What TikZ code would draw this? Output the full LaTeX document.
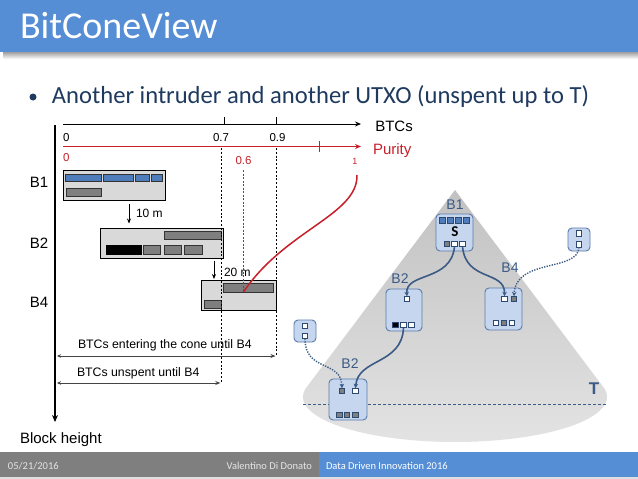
\documentclass[tikz,border=0pt]{standalone}
\usepackage{fontspec}
\setmainfont{Liberation Sans}
\newfontfamily\calfont{Carlito}
\usetikzlibrary{arrows.meta}
\definecolor{titleblue}{HTML}{558ED5}
\definecolor{footgray}{HTML}{7F7F7F}
\definecolor{bulletcol}{HTML}{1F3A5F}
\definecolor{lightgr}{HTML}{D9D9D9}
\definecolor{barblue}{HTML}{4F7CBA}
\definecolor{bargray}{HTML}{7F7F7F}
\definecolor{purred}{HTML}{C8202A}
\definecolor{dimgr}{HTML}{444444}
\definecolor{blkfill}{HTML}{C5D6EE}
\definecolor{blkedge}{HTML}{5A7CAA}
\definecolor{sqedge}{HTML}{2C4A70}
\definecolor{connblue}{HTML}{3B5A85}
\definecolor{lblblue}{HTML}{3A5A85}
\newcommand\fsz[1]{\fontsize{#1}{#1}\selectfont}
\newcommand\rnode[6]{\node[#2,anchor=north west,minimum width=#5pt,minimum height=#6pt] (#1) at (#3,#4) {};}
\tikzset{
  txt/.style={inner sep=0pt, outer sep=0pt},
  lb/.style={draw=black, fill=lightgr, line width=0.7pt, inner sep=0pt, outer sep=0pt},
  barB/.style={draw=black!80, fill=barblue, line width=0.5pt, inner sep=0pt, outer sep=0pt},
  barG/.style={draw=black!80, fill=bargray, line width=0.5pt, inner sep=0pt, outer sep=0pt},
  barK/.style={draw=black, fill=black, line width=0.5pt, inner sep=0pt, outer sep=0pt},
  cblk/.style={draw=blkedge, fill=blkfill, rounded corners=4pt, line width=0.9pt, inner sep=0pt, outer sep=0pt},
  sqW/.style={draw=sqedge, fill=white, minimum size=5.5pt, inner sep=0pt, outer sep=0pt, line width=0.6pt},
  sqG/.style={sqW, fill=bargray},
  sqK/.style={sqW, fill=black},
  sqB/.style={sqW, fill=barblue, minimum width=6.5pt, minimum height=6pt},
  conn/.style={draw=connblue, line width=1.6pt, -{Stealth[length=4.5pt,width=4.5pt]}},
  dconn/.style={draw=connblue, line width=1.4pt, dash pattern=on 1.3pt off 1.3pt, -{Stealth[length=4.5pt,width=4.5pt]}},
  blbl/.style={txt, text=lblblue, font=\fsz{14}},
}
\begin{document}
\begin{tikzpicture}[x=1pt,y=-1pt]
\useasboundingbox (0,0) rectangle (638,479);
\fill[white] (0,0) rectangle (638,479);
% title bar
\shade[top color=gray!75, bottom color=white] (3,52) rectangle (638,59);
\fill[titleblue] (0,0) rectangle (638,52);
\node[txt, anchor=base west, text=white, font=\calfont\fsz{38}] (title) at (20,38.5) {BitConeView};
% bullet
\node[circle, fill=bulletcol, minimum size=7pt, inner sep=0pt] (dot) at (33,97) {};
\node[txt, anchor=base west, text=bulletcol, font=\calfont\fsz{24.6}] (bullet) at (52,103) {Another intruder and another UTXO (unspent up to T)};
% footer
\fill[footgray] (0,452) rectangle (319,477);
\fill[titleblue] (319,452) rectangle (638,477);
\fill[gray!25] (0,477) rectangle (638,479);
\node[txt, anchor=base west, text=gray!20, font=\calfont\fsz{10.5}] (fdate) at (8,469) {05/21/2016};
\node[txt, anchor=base east, text=gray!20, font=\calfont\fsz{10.5}] (fauth) at (312,469) {Valentino Di Donato};
\node[txt, anchor=base west, text=white, font=\calfont\fsz{10.5}] (fconf) at (326,469) {Data Driven Innovation 2016};

% ---------------- left chart ----------------
\coordinate (ytop) at (55,125);
\coordinate (ybot) at (55,422);
\draw[line width=2.2pt, -{Stealth[length=7pt,width=6pt]}] (ytop) -- (ybot);
\node[txt, anchor=base west, font=\fsz{15}] (bh) at (20,443) {Block height};

\coordinate (bx0) at (63,124);
\coordinate (bx1) at (361,124);
\draw[line width=0.9pt, -{Stealth[length=6pt,width=5pt]}] (bx0) -- (bx1);
\coordinate (t7a) at (224,117); \coordinate (t7b) at (224,124);
\coordinate (t9a) at (276,117); \coordinate (t9b) at (276,124);
\draw[line width=0.7pt] (t7a) -- (t7b) (t9a) -- (t9b);
\node[txt, anchor=base, font=\fsz{15}] (btcs) at (394,131) {BTCs};
\node[txt, anchor=base west, font=\fsz{11.5}] (l0) at (63,141.5) {0};
\node[txt, anchor=base, font=\fsz{11.5}] (l07) at (221,141.5) {0.7};
\node[txt, anchor=base, font=\fsz{11.5}] (l09) at (277.5,141.5) {0.9};

\coordinate (px0) at (63,146.5);
\coordinate (px1) at (361,146.5);
\draw[purred, line width=1.3pt, -{Stealth[length=6pt,width=5pt]}] (px0) -- (px1);
\coordinate (tpa) at (319.5,141); \coordinate (tpb) at (319.5,152);
\draw[purred, line width=0.7pt] (tpa) -- (tpb);
\node[txt, anchor=base west, text=purred, font=\fsz{15}] (purity) at (373,154) {Purity};
\node[txt, anchor=base west, text=purred, font=\fsz{11.5}] (r0) at (63,161.5) {0};
\node[txt, anchor=base, text=purred, font=\fsz{11.5}] (r06) at (243.5,164) {0.6};
\node[txt, anchor=base, text=purred, font=\fsz{9}] (r1) at (355,164.5) {1};

\node[txt, anchor=center, font=\fsz{15}] (lb1) at (39,182.5) {B1};
\node[txt, anchor=center, font=\fsz{15}] (lb2) at (39,243) {B2};
\node[txt, anchor=center, font=\fsz{15}] (lb4) at (39,302) {B4};

% B1 box
\rnode{b1}{lb}{63}{170}{102}{30}
\rnode{b1a}{barB}{65.5}{174}{36}{7}
\rnode{b1b}{barB}{103.3}{174}{30}{7}
\rnode{b1c}{barB}{135}{174}{14.7}{7}
\rnode{b1d}{barB}{151.3}{174}{11.4}{7}
\rnode{b1e}{barG}{66.3}{188.7}{35}{7.6}
% arrow 10 m
\coordinate (a1s) at (129,204);
\coordinate (a1e) at (129,223.5);
\draw[line width=0.8pt, -{Stealth[length=5pt,width=4pt]}] (a1s) -- (a1e);
\node[txt, anchor=base west, font=\fsz{12}] (m10) at (136,217) {10 m};
% B2 box
\rnode{b2}{lb}{100.3}{228}{123}{30}
\rnode{b2a}{barG}{164.3}{231.7}{57}{7.6}
\rnode{b2b}{barK}{106}{245.3}{35.3}{9}
\rnode{b2c}{barG}{143.3}{245.3}{17}{9}
\rnode{b2d}{barG}{164.3}{245.3}{17.4}{9}
\rnode{b2e}{barG}{184.3}{245.3}{18}{9}
% arrow 20 m
\coordinate (a2s) at (214,261);
\coordinate (a2e) at (214,279);
\draw[line width=0.8pt, -{Stealth[length=5pt,width=4pt]}] (a2s) -- (a2e);
\node[txt, anchor=base west, font=\fsz{12}] (m20) at (224,276) {20 m};
% B4 box
\rnode{b4}{lb}{201.3}{280.3}{75}{30.4}
\rnode{b4a}{barG}{223}{283.7}{50.7}{8.6}
\rnode{b4b}{barG}{204.3}{300.5}{17}{7.3}

% dashed guide lines
\coordinate (d7a) at (220.8,148); \coordinate (d7b) at (220.8,383);
\coordinate (d9a) at (276,148); \coordinate (d9b) at (276,356);
\draw[line width=0.6pt, dash pattern=on 2pt off 1.8pt] (d7a) -- (d7b);
\draw[line width=0.6pt, dash pattern=on 2pt off 1.8pt] (d9a) -- (d9b);
\coordinate (d6a) at (243.5,170); \coordinate (d6b) at (243.5,292);
\draw[purred, line width=0.6pt, dash pattern=on 2pt off 1.5pt] (d6a) -- (d6b);
% red purity curve
\coordinate (cend) at (357,175);
\draw[purred, line width=1.5pt] (d6b) .. controls (285,230) and (358,215) .. (cend);

% dimension arrows
\coordinate (e1a) at (57,356); \coordinate (e1b) at (275.5,356);
\coordinate (e2a) at (57,383); \coordinate (e2b) at (220.3,383);
\draw[dimgr, line width=0.9pt, {Stealth[length=4pt,width=3.5pt]}-{Stealth[length=5pt,width=4pt]}] (e1a) -- (e1b);
\draw[dimgr, line width=0.9pt, {Stealth[length=4pt,width=3.5pt]}-{Stealth[length=5pt,width=4pt]}] (e2a) -- (e2b);
\node[txt, anchor=base west, font=\fsz{12.3}] (ent) at (78,348) {BTCs entering the cone until B4};
\node[txt, anchor=base west, font=\fsz{12.3}] (uns) at (77,376) {BTCs unspent until B4};

% ---------------- cone ----------------
\shade[top color=gray!48, bottom color=gray!22] (455,190) -- plot[domain=-12.5:192.5, samples=90] ({455+152*cos(\x)},{397+45*sin(\x)}) -- cycle;
\coordinate (ta) at (303,404); \coordinate (tb) at (607,404);
\draw[connblue, line width=0.6pt, dash pattern=on 3pt off 2pt] (ta) -- (tb);
\node[txt, text=connblue, font=\bfseries\fsz{17}] (tlab) at (594,389) {T};

% block B1 (S)
\rnode{cb1}{cblk}{436}{214}{37}{37}
\node[sqB] (cb1q1) at (442.5,220) {};
\node[sqB] (cb1q2) at (450.5,220) {};
\node[sqB] (cb1q3) at (458.5,220) {};
\node[sqB] (cb1q4) at (466.5,220) {};
\node[txt, font=\calfont\bfseries\fsz{15}] (slab) at (455,232) {S};
\node[sqG] (cb1g) at (447,244) {};
\node[sqW] (cb1w1) at (454.5,244) {};
\node[sqW] (cb1w2) at (462.5,244) {};
\node[blbl] (cb1l) at (455,205) {B1};

% block B2 middle
\rnode{cb2}{cblk}{386}{289}{36}{42}
\node[sqW] (cb2t) at (407,299) {};
\node[sqK] (cb2k) at (395.5,325) {};
\node[sqW] (cb2w1) at (403.5,325) {};
\node[sqW] (cb2w2) at (411.5,325) {};
\node[blbl] (cb2l) at (400,279) {B2};

% block B4
\rnode{cb4}{cblk}{485}{288}{37}{42}
\node[sqW] (cb4t) at (504.5,299) {};
\node[sqG] (cb4g) at (514,299) {};
\node[sqW] (cb4b1) at (496,323) {};
\node[sqG] (cb4b2) at (504,323) {};
\node[sqW] (cb4b3) at (512,323) {};
\node[blbl] (cb4l) at (510,268) {B4};

% block B2 bottom
\rnode{cb3}{cblk}{329}{379}{38}{41}
\node[sqG] (cb3g) at (342,391) {};
\node[sqW] (cb3w) at (355.5,391) {};
\node[sqG] (cb3b1) at (339.5,415) {};
\node[sqG] (cb3b2) at (347,415) {};
\node[sqG] (cb3b3) at (355.5,415) {};
\node[blbl] (cb3l) at (350,364) {B2};

% intruder boxes
\rnode{ir}{cblk}{568}{228}{22}{23}
\node[sqW] (irt) at (579,233.5) {};
\node[sqW] (irb) at (579,244.5) {};
\rnode{il}{cblk}{294}{320}{22}{22}
\node[sqW] (ilt) at (305,326) {};
\node[sqW] (ilb) at (305,336) {};

% connectors
\draw[conn] (cb1w1.south) .. controls (451,282) and (405,272) .. (cb2t.north);
\draw[conn] (cb1w2.south) .. controls (466,282) and (505,270) .. (cb4t.north);
\draw[conn] (cb2w1.south) .. controls (402,365) and (358,358) .. (cb3w.north);
\draw[dconn] (irb.south) .. controls (578,272) and (516,258) .. (cb4g.north);
\draw[dconn] (ilb.south) .. controls (305,372) and (341,360) .. (cb3g.north);
\end{tikzpicture}
\end{document}
